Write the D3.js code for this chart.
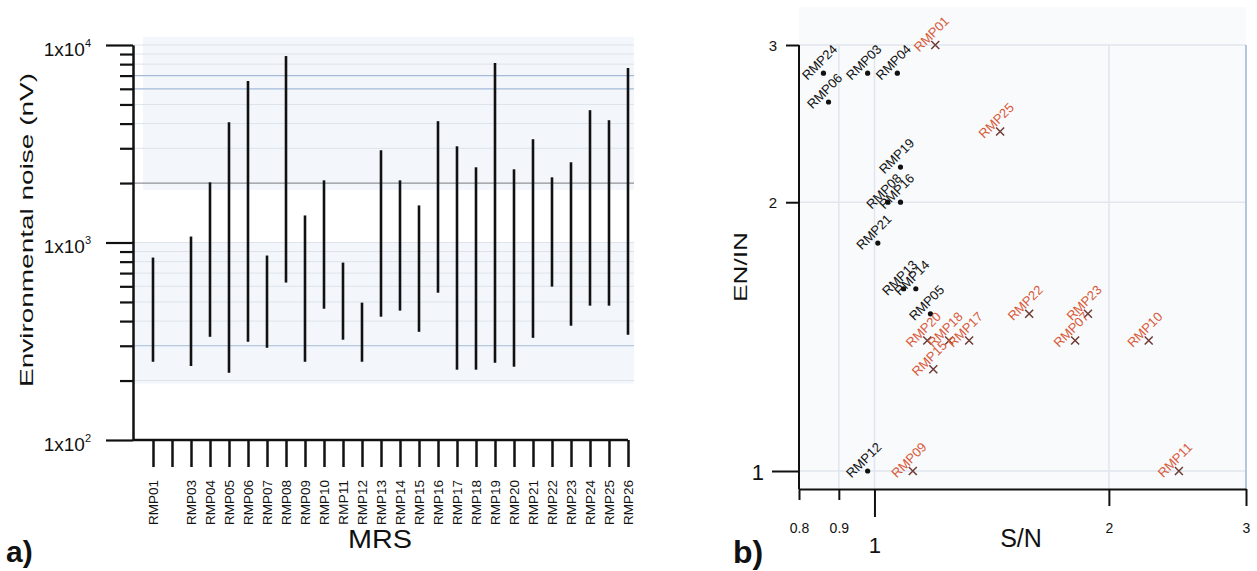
<!DOCTYPE html>
<html>
<head>
<meta charset="utf-8">
<script src="https://cdn.jsdelivr.net/npm/d3@7"></script>
<style>
  body { margin: 0; background: #fff; }
  text { font-family: "Liberation Sans", Arial, sans-serif; fill: #111; }
</style>
</head>
<body>
<script>
// a) environmental noise range per station (nV), null = no measure
var stations = ['RMP01','RMP02','RMP03','RMP04','RMP05','RMP06','RMP07','RMP08','RMP09','RMP10',
  'RMP11','RMP12','RMP13','RMP14','RMP15','RMP16','RMP17','RMP18','RMP19','RMP20',
  'RMP21','RMP22','RMP23','RMP24','RMP25','RMP26'];
var noiseMin = [249, null, 237, 333, 219, 314, 293, 627, 249, 462, 322, 249, 421, 452, 353, 557,
  227, 227, 246, 235, 329, 598, 379, 479, 479, 341];
var noiseMax = [839, null, 1072, 2017, 4064, 6566, 859, 8790, 1371, 2064, 791, 496, 2931, 2064, 1541, 4115,
  3070, 2403, 8107, 2348, 3334, 2138, 2548, 4677, 4161, 7643];
var noiseMajor = [100, 1000, 10000];
var noiseMinor = [200,300,400,500,600,700,800,900,2000,3000,4000,5000,6000,7000,8000,9000];

// b) S/N vs EN/IN
var snNames = ['RMP24','RMP06','RMP03','RMP04','RMP19','RMP08','RMP16','RMP21','RMP13','RMP14','RMP05','RMP12',
  'RMP01','RMP25','RMP20','RMP18','RMP17','RMP15','RMP09','RMP22','RMP23','RMP07','RMP10','RMP11'];
var snValues = [0.86, 0.873, 0.98, 1.07, 1.08, 1.04, 1.08, 1.01, 1.09, 1.13, 1.18, 0.98,
  1.197, 1.45, 1.169, 1.247, 1.323, 1.19, 1.12, 1.58, 1.88, 1.81, 2.25, 2.46];
var enValues = [2.79, 2.59, 2.79, 2.79, 2.19, 2.0, 2.0, 1.8, 1.6, 1.6, 1.5, 1.0,
  3.0, 2.4, 1.4, 1.4, 1.4, 1.3, 1.0, 1.5, 1.5, 1.4, 1.4, 1.0];
var snKind = ['dot','dot','dot','dot','dot','dot','dot','dot','dot','dot','dot','dot',
  'cross','cross','cross','cross','cross','cross','cross','cross','cross','cross','cross','cross'];
var snTicks = [0.8, 0.9, 1, 2, 3];
var enTicks = [1, 2, 3];

var svg = d3.select('body').append('svg')
  .attr('width', 1257)
  .attr('height', 571);

// ===== panel a =====
var yA = d3.scaleLog().domain([100, 10000]).range([440, 45]);
var xA = d3.scalePoint().domain(stations).range([153, 628]);

// tinted background blocks
svg.append('rect').attr('x', 143).attr('y', yA(10000) - 8)
  .attr('width', 634 - 143).attr('height', yA(2000) + 7 - (yA(10000) - 8))
  .style('fill', '#f3f7fb');
svg.append('rect').attr('x', 134).attr('y', yA(1000))
  .attr('width', 634 - 134).attr('height', yA(200) + 3 - yA(1000))
  .style('fill', '#f3f7fb');

// gridlines
var gridColor = function(v) {
  if (v === 6000 || v === 7000 || v === 300) return '#a3bbd9';
  if (v === 2000) return '#8f9399';
  return '#dde3eb';
};
svg.append('g').selectAll('line')
  .data(noiseMinor.concat([1000, 10000]))
  .enter().append('line')
  .attr('x1', 134).attr('x2', 634)
  .attr('y1', d => yA(d)).attr('y2', d => yA(d))
  .style('stroke', gridColor)
  .style('stroke-width', d => (d === 2000 || d === 300 || d === 6000 || d === 7000) ? 1.2 : 1);

// noise range bars
var bars = stations.map((s, i) => ({s: s, lo: noiseMin[i], hi: noiseMax[i]})).filter(d => d.lo !== null);
svg.append('g').selectAll('line')
  .data(bars)
  .enter().append('line')
  .attr('x1', d => xA(d.s)).attr('x2', d => xA(d.s))
  .attr('y1', d => yA(d.hi)).attr('y2', d => yA(d.lo))
  .style('stroke', '#111')
  .style('stroke-width', 2.6);

// y axis (major + minor ticks)
var yAxisA = svg.append('g').attr('transform', 'translate(133,0)');
yAxisA.call(d3.axisLeft(yA).tickValues(noiseMajor).tickSize(27).tickSizeOuter(0).tickFormat(''));
yAxisA.append('g').call(d3.axisLeft(yA).tickValues(noiseMinor).tickSize(13).tickSizeOuter(0).tickFormat(''));
yAxisA.selectAll('.domain').style('stroke', '#111').style('stroke-width', 2);
yAxisA.selectAll('.tick line').style('stroke', '#111').style('stroke-width', 2.2);
yAxisA.selectAll('g.tick').filter(d => noiseMajor.indexOf(d) >= 0)
  .append('text')
  .attr('x', -42).attr('y', 10)
  .attr('text-anchor', 'end')
  .style('font-size', '19px')
  .each(function(d) {
    var t = d3.select(this);
    t.append('tspan').text('1x10');
    t.append('tspan').text(Math.round(Math.log10(d))).attr('dy', -9).style('font-size', '11px');
  });

// x axis
svg.append('line').attr('x1', 133).attr('x2', xA.range()[1])
  .attr('y1', 440).attr('y2', 440)
  .style('stroke', '#111').style('stroke-width', 2.5);
var xAxisA = svg.append('g').attr('transform', 'translate(0,440)')
  .call(d3.axisBottom(xA).tickSize(27).tickSizeOuter(0)
    .tickFormat((d, i) => noiseMin[i] === null ? '' : d));
xAxisA.select('.domain').remove();
xAxisA.selectAll('.tick line').style('stroke', '#111').style('stroke-width', 2.5);
xAxisA.selectAll('.tick text')
  .attr('transform', 'rotate(-90)')
  .attr('x', -40).attr('y', 0).attr('dy', '0.36em')
  .attr('text-anchor', 'end')
  .attr('textLength', 45).attr('lengthAdjust', 'spacingAndGlyphs')
  .style('font-size', '12px')
  .style('fill', '#111');

svg.append('text').text('MRS')
  .attr('x', 380).attr('y', 548)
  .attr('text-anchor', 'middle')
  .attr('textLength', 64).attr('lengthAdjust', 'spacingAndGlyphs')
  .style('font-size', '25px');

svg.append('text').text('Environmental noise (nV)')
  .attr('transform', 'translate(33,230) rotate(-90)')
  .attr('text-anchor', 'middle')
  .attr('textLength', 314).attr('lengthAdjust', 'spacingAndGlyphs')
  .style('font-size', '19px');

svg.append('text').text('a)')
  .attr('x', 6).attr('y', 562)
  .style('font-size', '30px').style('font-weight', 'bold');

// ===== panel b =====
var xB = d3.scaleLog().domain([0.8, 3]).range([799, 1246]);
var yB = d3.scaleLog().domain([1, 3]).range([471, 45]);
var yBottom = 489;

svg.append('rect').attr('x', 799).attr('y', 7)
  .attr('width', 1246 - 799).attr('height', yBottom - 7)
  .style('fill', '#f8fafc');

// gridlines
svg.append('g').selectAll('line')
  .data([0.9, 1, 2])
  .enter().append('line')
  .attr('x1', d => xB(d)).attr('x2', d => xB(d))
  .attr('y1', 45).attr('y2', yBottom)
  .style('stroke', '#e1e6ee').style('stroke-width', 1.5);
svg.append('g').selectAll('line')
  .data(enTicks)
  .enter().append('line')
  .attr('x1', 799).attr('x2', 1246)
  .attr('y1', d => yB(d)).attr('y2', d => yB(d))
  .style('stroke', '#e1e6ee').style('stroke-width', 1.5);
svg.append('line').attr('x1', 1246).attr('x2', 1246)
  .attr('y1', 45).attr('y2', yBottom)
  .style('stroke', '#b3c6de').style('stroke-width', 2);

// axes
var yAxisB = svg.append('g').attr('transform', 'translate(799,0)')
  .call(d3.axisLeft(yB).tickValues(enTicks).tickSizeOuter(0).tickFormat(d3.format('d')));
yAxisB.select('.domain').attr('d', `M0,${yB(3)}V${yBottom}`)
  .style('stroke', '#111').style('stroke-width', 2);
yAxisB.selectAll('.tick line')
  .attr('x2', d => d === 1 ? -27 : -13)
  .style('stroke', '#111').style('stroke-width', 2);
yAxisB.selectAll('.tick text')
  .attr('x', d => d === 1 ? -35 : -22)
  .attr('dy', d => d === 1 ? '0.4em' : '0.35em')
  .style('font-size', d => d === 1 ? '22px' : '15px')
  .style('fill', '#111');

var xAxisB = svg.append('g').attr('transform', `translate(0,${yBottom})`)
  .call(d3.axisBottom(xB).tickValues(snTicks).tickSizeOuter(0).tickFormat(d => d));
xAxisB.select('.domain').style('stroke', '#111').style('stroke-width', 2);
xAxisB.selectAll('.tick line')
  .attr('y2', d => d === 1 ? 28 : (d >= 2 ? 17 : 11))
  .style('stroke', '#111').style('stroke-width', 2);
xAxisB.selectAll('.tick text')
  .attr('y', d => d === 1 ? 64 : 44)
  .attr('dy', 0)
  .style('font-size', d => d === 1 ? '22px' : '14px')
  .style('fill', '#111');

svg.append('text').text('S/N')
  .attr('x', 1021).attr('y', 547)
  .attr('text-anchor', 'middle')
  .style('font-size', '25px');

svg.append('text').text('EN/IN')
  .attr('transform', 'translate(747,267) rotate(-90)')
  .attr('text-anchor', 'middle')
  .attr('textLength', 70).attr('lengthAdjust', 'spacingAndGlyphs')
  .style('font-size', '18px');

svg.append('text').text('b)')
  .attr('x', 733).attr('y', 563)
  .style('font-size', '32px').style('font-weight', 'bold');

// points
var pts = snNames.map((n, i) => ({n: n, x: snValues[i], y: enValues[i], k: snKind[i]}));
var pg = svg.append('g');
pg.selectAll('circle')
  .data(pts.filter(d => d.k === 'dot'))
  .enter().append('circle')
  .attr('cx', d => xB(d.x)).attr('cy', d => yB(d.y))
  .attr('r', 2.6)
  .style('fill', '#111');
pg.selectAll('path.cross')
  .data(pts.filter(d => d.k === 'cross'))
  .enter().append('path')
  .attr('class', 'cross')
  .attr('transform', d => `translate(${xB(d.x)},${yB(d.y)})`)
  .attr('d', 'M-4,-4L4,4M-4,4L4,-4')
  .style('stroke', '#6e3b34').style('stroke-width', 1.5);

// labels, rotated 45 degrees (explicit matrix)
var c45 = Math.SQRT1_2;
pg.selectAll('text.lab')
  .data(pts)
  .enter().append('text')
  .attr('class', 'lab')
  .text(d => d.n)
  .attr('transform', d => 'matrix(' + c45 + ',' + (-c45) + ',' + c45 + ',' + c45 + ',' +
    xB(d.x) + ',' + yB(d.y) + ')')
  .attr('x', 5).attr('y', -6)
  .attr('text-anchor', 'middle')
  .style('font-size', '13px')
  .style('fill', d => d.k === 'dot' ? '#111' : '#d95b3a');
</script>
</body>
</html>
